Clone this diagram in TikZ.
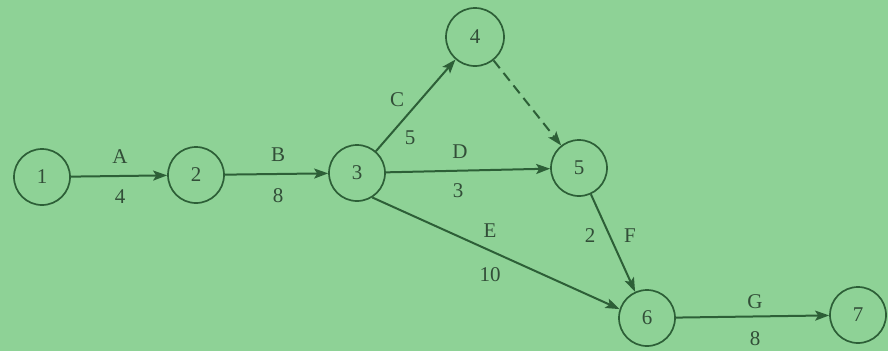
\documentclass[tikz,border=0pt]{standalone}
\usepackage{fontspec}
\setmainfont{Liberation Serif}
\usetikzlibrary{arrows.meta}
\definecolor{bg}{RGB}{142,210,150}
\definecolor{ink}{RGB}{45,95,55}
\definecolor{txt}{RGB}{50,78,56}
\begin{document}
\begin{tikzpicture}[x=1pt,y=-1pt,
  ev/.style={circle,draw=ink,line width=1.7pt,minimum size=56pt,inner sep=0pt,text=txt,font=\fontsize{21}{24}\selectfont},
  act/.style={draw=ink,line width=2pt,-{Stealth[length=14pt,width=10pt,inset=3pt]}},
  lab/.style={text=txt,font=\fontsize{21}{24}\selectfont,inner sep=0pt}]
\fill[bg] (0,0) rectangle (888,351);
\useasboundingbox (0,0) rectangle (888,351);
\node[ev] (n1) at (42,177) {1};
\node[ev] (n2) at (196,175) {2};
\node[ev] (n3) at (357,173) {3};
\node[ev,minimum size=58pt] (n4) at (475,37) {4};
\node[ev] (n5) at (579,168) {5};
\node[ev] (n6) at (647,318) {6};
\node[ev] (n7) at (858,315) {7};
\draw[act] (n1) -- (n2);
\draw[act] (n2) -- (n3);
\draw[act] (n3) -- (n4);
\draw[act] (n3) -- (n5);
\draw[act] (n3.-58) -- (n6.162);
\draw[act,dashed,dash pattern=on 10pt off 6pt] (n4) -- (n5);
\draw[act] (n5) -- (n6);
\draw[act] (n6) -- (n7);
\node[lab] (la) at (120,157) {A};
\node[lab] (l4) at (120,197) {4};
\node[lab] (lb) at (278,155) {B};
\node[lab] (l8) at (278,196) {8};
\node[lab] (lc) at (397,100) {C};
\node[lab] (l5) at (410,138) {5};
\node[lab] (ld) at (460,152) {D};
\node[lab] (l3) at (458,191) {3};
\node[lab] (le) at (490,231) {E};
\node[lab] (l10) at (490,275) {10};
\node[lab] (l2) at (590,236) {2};
\node[lab] (lf) at (630,236) {F};
\node[lab] (lg) at (755,302) {G};
\node[lab] (lg8) at (755,339) {8};
\end{tikzpicture}
\end{document}
